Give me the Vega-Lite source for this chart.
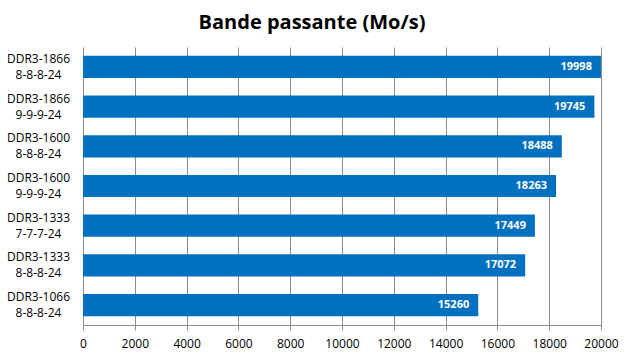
{
  "$schema": "https://vega.github.io/schema/vega-lite/v6.json",
  "width": 518,
  "height": 278,
  "autosize": "none",
  "padding": {"left": 83, "top": 47, "right": 28, "bottom": 39},
  "background": "white",
  "title": {
    "text": "Bande passante (Mo/s)",
    "font": "Open Sans",
    "fontSize": 20,
    "fontWeight": "bold",
    "color": "black",
    "anchor": "middle",
    "dx": -30,
    "offset": 14
  },
  "data": {
    "values": [
      {"module": "DDR3-1866\n8-8-8-24", "bandwidth": 19998},
      {"module": "DDR3-1866\n9-9-9-24", "bandwidth": 19745},
      {"module": "DDR3-1600\n8-8-8-24", "bandwidth": 18488},
      {"module": "DDR3-1600\n9-9-9-24", "bandwidth": 18263},
      {"module": "DDR3-1333\n7-7-7-24", "bandwidth": 17449},
      {"module": "DDR3-1333\n8-8-8-24", "bandwidth": 17072},
      {"module": "DDR3-1066\n8-8-8-24", "bandwidth": 15260}
    ]
  },
  "encoding": {
    "y": {
      "field": "module",
      "type": "nominal",
      "sort": null,
      "scale": {"paddingInner": 0.44, "paddingOuter": 0.22},
      "axis": {
        "title": null,
        "labelExpr": "split(datum.label, '\\n')",
        "labelLineHeight": 16,
        "labelFont": "Open Sans",
        "labelFontSize": 12,
        "labelColor": "black",
        "labelAlign": "center",
        "labelBaseline": "middle",
        "labelOffset": -8,
        "labelPadding": 45,
        "ticks": false,
        "domain": false
      }
    },
    "x": {
      "field": "bandwidth",
      "type": "quantitative",
      "scale": {"domain": [0, 20000]},
      "axis": {
        "title": null,
        "values": [0, 2000, 4000, 6000, 8000, 10000, 12000, 14000, 16000, 18000, 20000],
        "format": "d",
        "labelFont": "Open Sans",
        "labelFontSize": 12,
        "labelColor": "black",
        "labelPadding": 8,
        "grid": true,
        "gridColor": "#8c8c8c",
        "gridWidth": 1,
        "domainColor": "#8c8c8c",
        "tickColor": "#8c8c8c",
        "tickSize": 5,
        "labelFlush": false
      }
    }
  },
  "layer": [
    {"mark": {"type": "bar", "color": "#0070C0"}},
    {
      "mark": {
        "type": "text",
        "align": "right",
        "dx": -9,
        "color": "white",
        "font": "Open Sans",
        "fontSize": 11,
        "fontWeight": "bold"
      },
      "encoding": {"text": {"field": "bandwidth", "type": "quantitative", "format": "d"}}
    }
  ],
  "config": {"view": {"stroke": null}}
}
